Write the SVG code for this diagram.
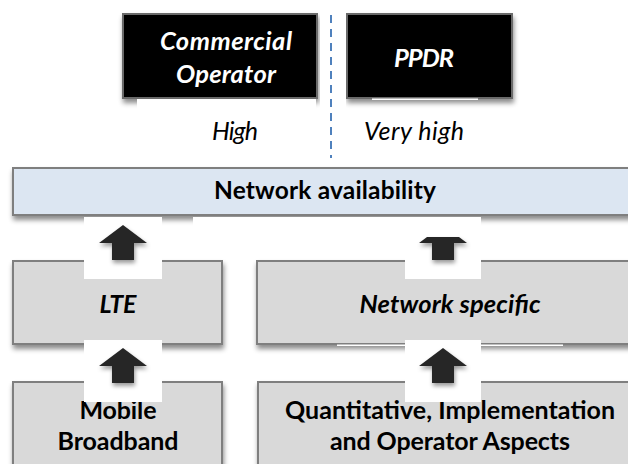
<svg xmlns="http://www.w3.org/2000/svg" width="628" height="464" viewBox="0 0 628 464">
<defs>
<filter id="sh" x="-10%" y="-20%" width="130%" height="160%">
<feDropShadow dx="1" dy="4" stdDeviation="2.5" flood-color="#000" flood-opacity="0.45"/>
</filter>
<filter id="ash" x="-30%" y="-30%" width="160%" height="170%">
<feDropShadow dx="1" dy="3" stdDeviation="2" flood-color="#000" flood-opacity="0.4"/>
</filter>
</defs>
<style>
.t{font-family:Lato,"Open Sans","Liberation Sans",sans-serif;text-anchor:middle}
.blk{fill:#000;stroke:#6b6b6b;stroke-width:2}
.blue{fill:#dce6f2;stroke:#7f7f7f;stroke-width:2}
.gray{fill:#d9d9d9;stroke:#7f7f7f;stroke-width:2}
.wh{fill:#fff}
.arr{fill:#262626}
.bi{font-weight:bold;font-style:italic}
.b{font-weight:bold}
.i{font-style:italic}
</style>
<rect width="628" height="464" fill="#fff"/>
<g id="commercial-operator">
<rect class="blk" x="123" y="14" width="194" height="84" filter="url(#sh)"/>
<rect class="wh" x="137" y="99" width="179" height="31"/>
<text class="t bi" x="226" y="50" font-size="25.5" fill="#fff" textLength="132" lengthAdjust="spacing">Commercial</text>
<text class="t bi" x="226" y="83" font-size="25.5" fill="#fff" textLength="100" lengthAdjust="spacing">Operator</text>
</g>
<g id="ppdr">
<rect class="blk" x="347" y="14" width="165" height="84" filter="url(#sh)"/>
<rect class="wh" x="372" y="98.5" width="106" height="1.5"/>
<text class="t bi" x="424" y="67" font-size="25.5" fill="#fff" textLength="60" lengthAdjust="spacing">PPDR</text>
</g>
<g id="divider">
<rect class="wh" x="320" y="0" width="26" height="160"/>
<line x1="331" y1="15" x2="331" y2="158" stroke="#4f81bd" stroke-width="2" stroke-dasharray="8 6"/>
</g>
<g id="levels">
<text class="t i" x="235" y="140" font-size="25" fill="#000" textLength="46" lengthAdjust="spacing">High</text>
<text class="t i" x="414" y="140" font-size="25" fill="#000" textLength="100" lengthAdjust="spacing">Very high</text>
</g>
<g id="network-availability">
<rect class="blue" x="13" y="168" width="630" height="47" filter="url(#sh)"/>
<rect class="wh" x="193" y="217" width="267" height="11"/>
<text class="t b" x="325" y="199" font-size="24.5" fill="#000" textLength="222" lengthAdjust="spacing">Network availability</text>
</g>
<g id="lte">
<rect class="gray" x="13" y="261" width="209" height="83" filter="url(#sh)"/>
<text class="t bi" x="118" y="313" font-size="25" fill="#000" textLength="37" lengthAdjust="spacing">LTE</text>
</g>
<g id="network-specific">
<rect class="gray" x="257" y="261" width="386" height="83" filter="url(#sh)"/>
<rect class="wh" x="337" y="344.5" width="226" height="1.5"/>
<text class="t bi" x="450" y="313" font-size="25.5" fill="#000" textLength="181" lengthAdjust="spacing">Network specific</text>
</g>
<g id="mobile-broadband">
<rect class="gray" x="13" y="382" width="209" height="100" filter="url(#sh)"/>
<text class="t b" x="118" y="419" font-size="25" fill="#000" textLength="77" lengthAdjust="spacing">Mobile</text>
<text class="t b" x="118" y="450" font-size="25" fill="#000" textLength="121" lengthAdjust="spacing">Broadband</text>
</g>
<g id="quantitative-aspects">
<rect class="gray" x="258" y="382" width="386" height="100" filter="url(#sh)"/>
<text class="t b" x="450" y="419" font-size="25" fill="#000" textLength="330" lengthAdjust="spacing">Quantitative, Implementation</text>
<text class="t b" x="450" y="450" font-size="25" fill="#000" textLength="240" lengthAdjust="spacing">and Operator Aspects</text>
</g>
<g id="connectors">
<rect class="wh" x="84" y="217" width="78" height="62"/>
<rect class="wh" x="405" y="217" width="76" height="62"/>
<rect class="wh" x="84" y="340" width="78" height="62"/>
<rect class="wh" x="405" y="340" width="76" height="62"/>
<polygon class="arr" filter="url(#ash)" points="123,225 147,243 134,243 134,260 112,260 112,243 99,243"/>
<polygon class="arr" filter="url(#ash)" points="427,237 459,237 467,243 454,243 454,260 432,260 432,243 419,243"/>
<polygon class="arr" filter="url(#ash)" points="123,348 147,366 134,366 134,383 112,383 112,366 99,366"/>
<polygon class="arr" filter="url(#ash)" points="443,348 467,366 454,366 454,383 432,383 432,366 419,366"/>
</g>
</svg>
